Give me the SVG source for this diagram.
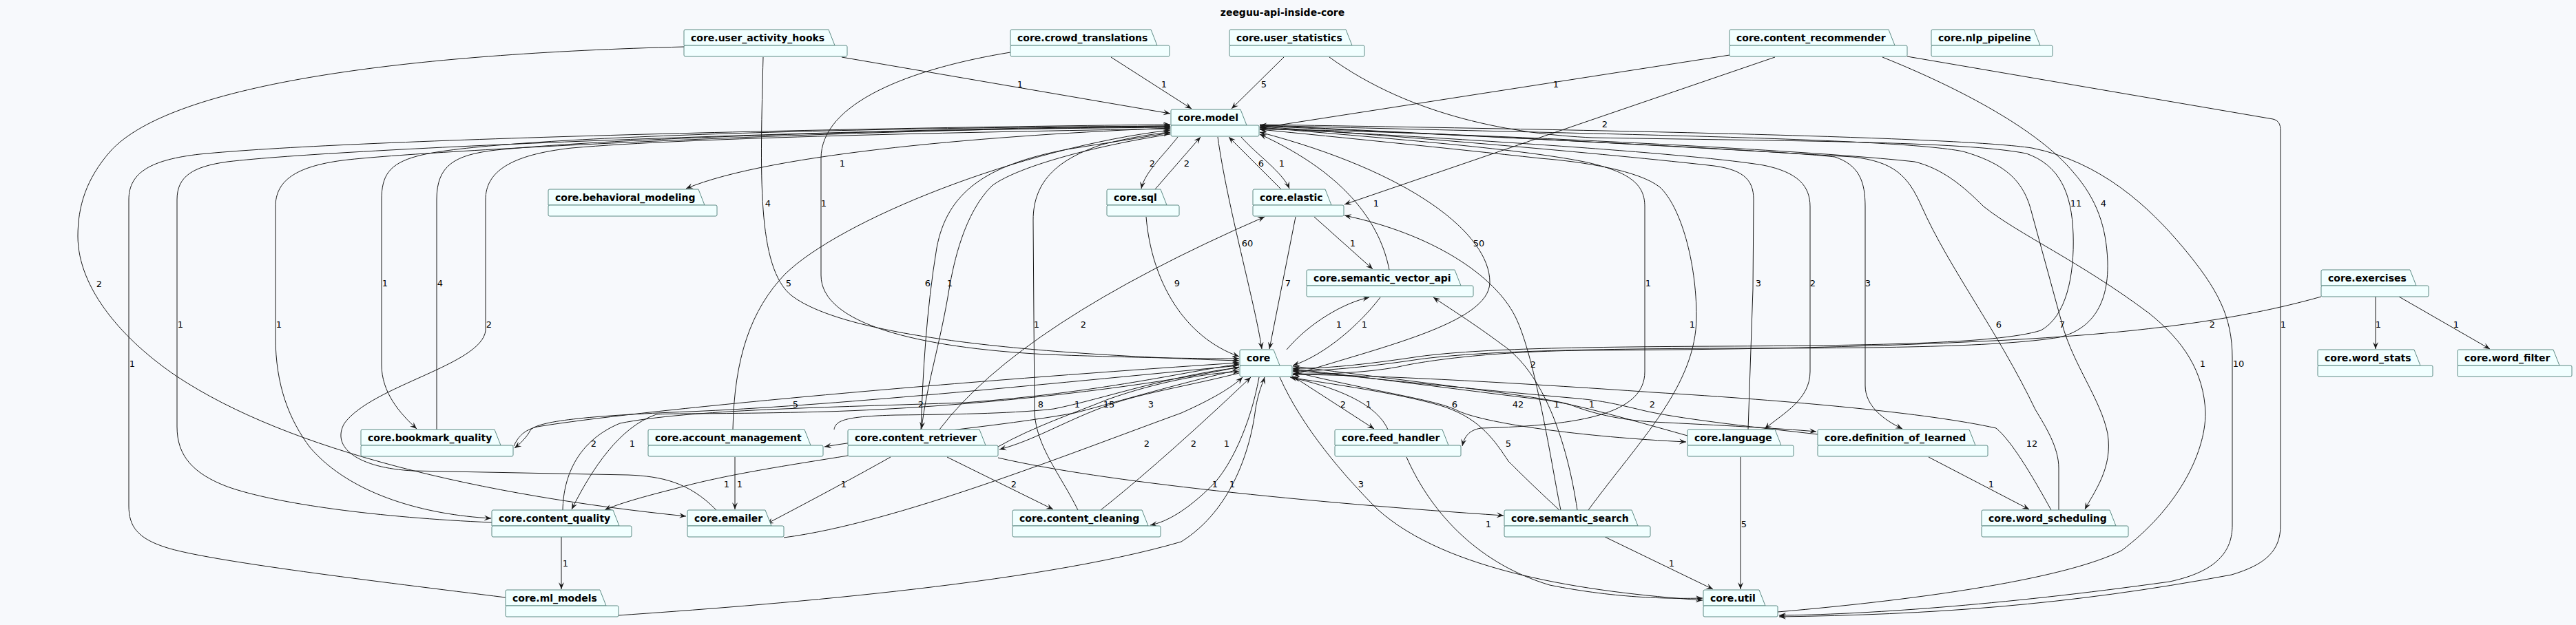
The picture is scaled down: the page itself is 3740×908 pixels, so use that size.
<svg xmlns="http://www.w3.org/2000/svg" width="3740" height="908" viewBox="0 0 3740 908">
<style>
.n path,.n rect{fill:#F1FFFF;stroke:#5C8A84;stroke-width:1}
.n text{font-family:'DejaVu Sans','Liberation Sans',sans-serif;font-weight:bold;font-size:14px;fill:#000}
#edges path{fill:none;stroke:#181818;stroke-width:1;marker-end:url(#a)}
#edges text{font-family:'DejaVu Sans','Liberation Sans',sans-serif;font-size:13px;fill:#000;text-anchor:middle}
.title{font-family:'DejaVu Sans','Liberation Sans',sans-serif;font-weight:bold;font-size:14px;fill:#000;text-anchor:middle}
</style>
<defs>
<marker id="a" markerUnits="userSpaceOnUse" markerWidth="12" markerHeight="10" refX="10" refY="5" orient="auto" viewBox="0 0 12 10"><path d="M0,1 L10,5 L0,9 L4,5 Z" fill="#181818"/></marker>
</defs>
<rect width="3740" height="908" fill="#F7F9FC"/>
<text class="title" x="1862" y="23">zeeguu-api-inside-core</text>
<g id="edges">
<path d="M1222,83 L1699,165"/>
<path d="M1613,83 L1730,158"/>
<path d="M1864,83 L1788,158"/>
<path d="M2511,80 L1829,186"/>
<path d="M2577,83 L1952,297"/>
<path d="M1699,186 C1450,196 1120,222 996,274"/>
<path d="M1108,83 C1104,250 1098,390 1150,430 C1230,490 1500,515 1799,524"/>
<path d="M1467,76 C1320,100 1192,150 1192,230 L1192,400 C1192,470 1330,505 1520,515 C1650,520 1750,521 1799,521"/>
<path d="M1064,624 C1066,520 1090,450 1140,398 C1220,320 1480,215 1699,189"/>
<path d="M634,624 L634,290 C634,240 660,225 720,218 C900,200 1300,188 1699,185"/>
<path d="M1699,183 C1200,186 700,200 605,227 C565,238 554,255 554,290 L554,530 C554,570 580,600 605,623"/>
<path d="M1040,741 C1000,700 960,692 912,690 L600,684 C520,680 480,650 500,615 C540,560 700,530 705,480 L705,290 C705,250 740,225 830,215 C1000,200 1400,192 1699,187"/>
<path d="M734,868 C550,845 300,815 240,795 C200,782 187,765 187,735 L187,290 C187,250 220,232 290,224 C500,203 1200,186 1699,181"/>
<path d="M714,759 C550,752 400,732 330,707 C280,688 257,662 257,620 L257,290 C257,256 280,242 330,235 C500,215 1200,188 1699,183"/>
<path d="M1699,184 C1200,188 600,220 497,233 C430,242 400,262 400,300 L400,490 C400,560 420,610 450,650 C510,720 620,748 713,753"/>
<path d="M993,68 C600,78 250,120 160,220 C125,260 113,300 113,343 C113,420 180,495 257,547 C420,655 700,720 996,750"/>
<path d="M1710,199 C1690,225 1662,250 1657,274"/>
<path d="M1677,275 L1743,199"/>
<path d="M1860,275 L1784,199"/>
<path d="M1802,199 C1825,225 1862,250 1872,274"/>
<path d="M1768,199 C1782,300 1822,440 1832,507"/>
<path d="M1664,315 C1672,410 1720,490 1799,518"/>
<path d="M1881,315 L1843,507"/>
<path d="M1908,315 L1993,391"/>
<path d="M2017,392 C2005,330 1960,255 1829,195"/>
<path d="M1868,508 C1900,470 1950,440 1988,432"/>
<path d="M2004,432 C1975,470 1925,515 1877,531"/>
<path d="M1877,545 C2000,505 2163,470 2163,410 C2163,340 2050,250 1829,192"/>
<path d="M2290,741 C2275,640 2240,540 2180,500 C2140,470 2100,445 2081,432"/>
<path d="M2266,741 C2255,690 2230,520 2200,460 C2170,400 2080,340 1952,313"/>
<path d="M2306,741 C2380,640 2463,560 2463,460 C2463,380 2440,300 2410,272 C2380,248 2300,235 2236,230 C2100,215 1950,200 1829,188"/>
<path d="M1829,185 C2000,200 2200,215 2300,235 C2370,250 2388,270 2388,300 L2388,540 C2388,600 2300,618 2150,622 C2132,625 2126,635 2123,648"/>
<path d="M2538,624 L2545,420 L2546,290 C2546,260 2530,245 2480,240 C2300,220 2000,195 1829,184"/>
<path d="M1829,186 C2100,200 2450,222 2560,240 C2610,250 2628,270 2628,300 L2628,540 C2628,580 2590,600 2562,623"/>
<path d="M1829,183 C2200,200 2600,220 2664,228 C2700,240 2708,265 2708,300 L2708,560 C2708,590 2735,610 2762,623"/>
<path d="M2989,741 L2989,680 C2989,650 2970,620 2955,595 C2900,480 2830,390 2790,300 C2770,255 2750,235 2690,228 C2400,210 2000,190 1829,182"/>
<path d="M1829,182 C2300,195 2750,200 2850,220 C2920,240 2940,270 2950,310 L2994,471 C3010,530 3050,580 3060,630 C3068,680 3040,715 3027,740"/>
<path d="M1930,83 C2050,170 2200,195 2312,200 C2600,205 2850,205 2942,223 C2990,240 3008,280 3010,340 C3012,400 3000,460 2963,480 C2900,500 2700,502 2500,503 C2300,504 2150,506 2060,518 C1980,530 1920,536 1877,535"/>
<path d="M2733,83 C2850,130 2960,190 3010,250 C3045,290 3058,330 3060,380 C3062,450 3030,480 2990,490 C2900,505 2700,506 2500,506 C2300,507 2150,510 2060,522 C1980,534 1920,539 1877,539"/>
<path d="M3370,431 C3250,465 3100,485 2895,495 C2700,505 2500,508 2300,509 C2150,511 2060,526 2030,533 C1980,542 1920,544 1877,543"/>
<path d="M1829,181 C2400,190 2850,200 2950,215 C3050,235 3120,300 3170,360 C3220,420 3241,460 3241,520 L3241,763 C3241,800 3220,830 3150,845 C2900,880 2700,893 2583,894"/>
<path d="M2581,889 C2800,870 3000,840 3080,800 C3160,740 3202,660 3202,600 C3200,540 3170,495 3120,455 C3020,380 2930,340 2880,300 C2850,270 2820,245 2780,235 C2600,215 2000,188 1829,188"/>
<path d="M2769,82 L3300,173 C3308,175 3311,180 3311,190 L3311,763 C3311,800 3290,820 3240,835 C3000,880 2800,893 2583,896"/>
<path d="M746,648 C752,635 760,625 780,620 C900,600 1300,560 1799,527"/>
<path d="M1799,531 C1500,560 1200,590 1000,598 C850,604 780,612 770,625 C765,635 755,645 747,651"/>
<path d="M1211,624 C1213,610 1230,605 1300,603 C1400,602 1480,600 1530,594 C1600,580 1700,545 1799,534"/>
<path d="M1799,537 C1700,560 1600,590 1560,600 C1450,620 1300,632 1197,649"/>
<path d="M1449,649 C1500,620 1560,600 1609,580 C1680,555 1750,542 1799,540"/>
<path d="M1799,542 C1720,562 1650,572 1600,592 C1540,615 1500,640 1451,653"/>
<path d="M817,741 C818,690 840,640 900,615 C1000,595 1200,592 1400,585 C1600,570 1720,540 1799,529"/>
<path d="M1799,533 C1650,565 1400,592 1200,598 C1050,602 980,600 953,602 C900,620 860,680 830,740"/>
<path d="M1337,624 C1340,540 1345,450 1360,360 C1375,280 1430,240 1549,217 L1699,193"/>
<path d="M1699,195 C1600,210 1480,240 1440,270 C1400,310 1385,380 1378,420 C1365,500 1345,560 1338,623"/>
<path d="M1565,741 C1540,690 1505,650 1502,600 L1500,320 C1500,260 1540,230 1600,210 C1640,200 1670,195 1699,192"/>
<path d="M1598,741 C1650,700 1730,630 1816,548"/>
<path d="M1828,548 C1815,620 1785,680 1760,705 C1725,740 1695,758 1670,763"/>
<path d="M1138,781 C1300,760 1550,660 1715,600 C1760,580 1790,562 1804,548"/>
<path d="M898,894 C1100,880 1500,850 1715,787 C1790,740 1815,650 1822,600 C1826,570 1834,555 1836,548"/>
<path d="M1858,548 C1890,620 1950,690 2000,740 C2100,830 2300,860 2472,872"/>
<path d="M2042,664 C2080,750 2150,820 2250,850 C2350,870 2430,870 2472,869"/>
<path d="M1876,546 L1995,623"/>
<path d="M2015,624 C2000,590 1950,565 1873,548"/>
<path d="M1877,540 C2000,570 2080,580 2113,595 C2150,615 2300,635 2448,642"/>
<path d="M2450,633 C2350,605 2280,585 2234,580 C2150,570 2000,550 1877,536"/>
<path d="M1877,532 C2100,560 2250,578 2280,588 C2310,600 2350,610 2400,613 C2500,618 2580,622 2637,627"/>
<path d="M2639,631 C2560,622 2450,610 2393,598 C2350,588 2330,582 2280,578 C2100,562 1950,545 1877,538"/>
<path d="M2978,741 C2950,690 2920,640 2898,622 C2800,600 2600,582 2400,570 C2200,556 2000,545 1877,544"/>
<path d="M1364,624 Q1480,470 1836,315"/>
<path d="M1231,662 C1150,675 1050,690 980,710 C920,725 890,735 878,741"/>
<path d="M1293,664 Q1220,705 1113,761"/>
<path d="M1067,664 L1067,740"/>
<path d="M1375,664 L1529,740"/>
<path d="M1449,665 C1600,700 1900,730 2183,749"/>
<path d="M2264,741 C2230,710 2200,680 2190,670 C2170,640 2150,610 2100,592 C2050,575 1950,560 1877,549"/>
<path d="M2330,780 L2487,856"/>
<path d="M2527,664 L2527,856"/>
<path d="M2800,664 L2946,740"/>
<path d="M3449,431 L3449,507"/>
<path d="M3483,431 L3615,507"/>
<path d="M815,780 L815,856"/>
<text x="1481" y="127">1</text><text x="1690" y="127">1</text><text x="1835" y="127">5</text><text x="2259" y="127">1</text><text x="2330" y="185">2</text>
<text x="1223" y="242">1</text><text x="1115" y="300">4</text><text x="1196" y="300">1</text><text x="1145" y="416">5</text>
<text x="639" y="416">4</text><text x="559" y="416">1</text><text x="710" y="476">2</text>
<text x="192" y="533">1</text><text x="262" y="476">1</text><text x="405" y="476">1</text><text x="144" y="417">2</text>
<text x="1673" y="242">2</text><text x="1723" y="242">2</text><text x="1831" y="242">6</text><text x="1861" y="242">1</text>
<text x="1811" y="358">60</text><text x="1709" y="416">9</text><text x="1870" y="416">7</text><text x="1964" y="358">1</text>
<text x="1998" y="300">1</text><text x="1944" y="476">1</text><text x="1981" y="476">1</text>
<text x="2147" y="358">50</text><text x="2226" y="534">2</text><text x="2260" y="592">1</text><text x="2457" y="476">1</text>
<text x="2393" y="416">1</text><text x="2553" y="416">3</text><text x="2632" y="416">2</text><text x="2712" y="416">3</text>
<text x="2902" y="476">6</text><text x="2994" y="476">7</text><text x="3014" y="300">11</text><text x="3054" y="300">4</text><text x="3212" y="476">2</text>
<text x="3250" y="533">10</text><text x="3198" y="533">1</text><text x="3315" y="476">1</text>
<text x="1155" y="592">5</text><text x="1337" y="592">2</text><text x="1511" y="592">8</text><text x="1564" y="592">1</text><text x="1610" y="592">15</text><text x="1671" y="592">3</text>
<text x="862" y="649">2</text><text x="918" y="649">1</text>
<text x="1347" y="416">6</text><text x="1379" y="416">1</text>
<text x="1505" y="476">1</text><text x="1733" y="649">2</text><text x="1781" y="649">1</text><text x="1665" y="649">2</text><text x="1789" y="708">1</text>
<text x="1976" y="708">3</text><text x="2161" y="766">1</text><text x="1950" y="592">2</text><text x="1987" y="592">1</text><text x="2112" y="592">6</text><text x="2204" y="592">42</text>
<text x="2399" y="592">2</text><text x="2311" y="592">1</text><text x="2950" y="649">12</text>
<text x="1573" y="476">2</text><text x="1055" y="708">1</text><text x="1225" y="708">1</text><text x="1074" y="708">1</text><text x="1472" y="708">2</text><text x="1764" y="708">1</text>
<text x="2190" y="649">5</text><text x="2427" y="823">1</text><text x="2532" y="766">5</text><text x="2891" y="708">1</text><text x="3453" y="476">1</text><text x="3566" y="476">1</text><text x="821" y="823">1</text>
</g>
<g id="n-user_activity_hooks" class="n"><path d="M993,66 V45 Q993,43 995,43 H1203 L1212,66 Z"/><rect x="993" y="66" width="237" height="16" rx="2"/><text x="1003" y="60">core.user_activity_hooks</text></g>
<g id="n-crowd_translations" class="n"><path d="M1467,66 V45 Q1467,43 1469,43 H1671 L1680,66 Z"/><rect x="1467" y="66" width="231" height="16" rx="2"/><text x="1477" y="60">core.crowd_translations</text></g>
<g id="n-user_statistics" class="n"><path d="M1785,66 V45 Q1785,43 1787,43 H1954 L1963,66 Z"/><rect x="1785" y="66" width="196" height="16" rx="2"/><text x="1795" y="60">core.user_statistics</text></g>
<g id="n-content_recommender" class="n"><path d="M2511,66 V45 Q2511,43 2513,43 H2742 L2751,66 Z"/><rect x="2511" y="66" width="258" height="16" rx="2"/><text x="2521" y="60">core.content_recommender</text></g>
<g id="n-nlp_pipeline" class="n"><path d="M2804,66 V45 Q2804,43 2806,43 H2953 L2962,66 Z"/><rect x="2804" y="66" width="176" height="16" rx="2"/><text x="2814" y="60">core.nlp_pipeline</text></g>
<g id="n-model" class="n"><path d="M1700,182 V161 Q1700,159 1702,159 H1801 L1810,182 Z"/><rect x="1700" y="182" width="128" height="16" rx="2"/><text x="1710" y="176">core.model</text></g>
<g id="n-behavioral_modeling" class="n"><path d="M796,298 V277 Q796,275 798,275 H1014 L1023,298 Z"/><rect x="796" y="298" width="245" height="16" rx="2"/><text x="806" y="292">core.behavioral_modeling</text></g>
<g id="n-sql" class="n"><path d="M1607,298 V277 Q1607,275 1609,275 H1685 L1694,298 Z"/><rect x="1607" y="298" width="105" height="16" rx="2"/><text x="1617" y="292">core.sql</text></g>
<g id="n-elastic" class="n"><path d="M1819,298 V277 Q1819,275 1821,275 H1924 L1933,298 Z"/><rect x="1819" y="298" width="132" height="16" rx="2"/><text x="1829" y="292">core.elastic</text></g>
<g id="n-semantic_vector_api" class="n"><path d="M1897,415 V394 Q1897,392 1899,392 H2112 L2121,415 Z"/><rect x="1897" y="415" width="242" height="16" rx="2"/><text x="1907" y="409">core.semantic_vector_api</text></g>
<g id="n-exercises" class="n"><path d="M3370,415 V394 Q3370,392 3372,392 H3499 L3508,415 Z"/><rect x="3370" y="415" width="156" height="16" rx="2"/><text x="3380" y="409">core.exercises</text></g>
<g id="n-core" class="n"><path d="M1800,531 V510 Q1800,508 1802,508 H1849 L1858,531 Z"/><rect x="1800" y="531" width="76" height="16" rx="2"/><text x="1810" y="525">core</text></g>
<g id="n-word_stats" class="n"><path d="M3365,531 V510 Q3365,508 3367,508 H3505 L3514,531 Z"/><rect x="3365" y="531" width="167" height="16" rx="2"/><text x="3375" y="525">core.word_stats</text></g>
<g id="n-word_filter" class="n"><path d="M3568,531 V510 Q3568,508 3570,508 H3707 L3716,531 Z"/><rect x="3568" y="531" width="166" height="16" rx="2"/><text x="3578" y="525">core.word_filter</text></g>
<g id="n-bookmark_quality" class="n"><path d="M524,647 V626 Q524,624 526,624 H718 L727,647 Z"/><rect x="524" y="647" width="221" height="16" rx="2"/><text x="534" y="641">core.bookmark_quality</text></g>
<g id="n-account_management" class="n"><path d="M941,647 V626 Q941,624 943,624 H1168 L1177,647 Z"/><rect x="941" y="647" width="254" height="16" rx="2"/><text x="951" y="641">core.account_management</text></g>
<g id="n-content_retriever" class="n"><path d="M1231,647 V626 Q1231,624 1233,624 H1422 L1431,647 Z"/><rect x="1231" y="647" width="218" height="16" rx="2"/><text x="1241" y="641">core.content_retriever</text></g>
<g id="n-feed_handler" class="n"><path d="M1938,647 V626 Q1938,624 1940,624 H2094 L2103,647 Z"/><rect x="1938" y="647" width="183" height="16" rx="2"/><text x="1948" y="641">core.feed_handler</text></g>
<g id="n-language" class="n"><path d="M2450,647 V626 Q2450,624 2452,624 H2577 L2586,647 Z"/><rect x="2450" y="647" width="154" height="16" rx="2"/><text x="2460" y="641">core.language</text></g>
<g id="n-definition_of_learned" class="n"><path d="M2639,647 V626 Q2639,624 2641,624 H2859 L2868,647 Z"/><rect x="2639" y="647" width="247" height="16" rx="2"/><text x="2649" y="641">core.definition_of_learned</text></g>
<g id="n-content_quality" class="n"><path d="M714,764 V743 Q714,741 716,741 H890 L899,764 Z"/><rect x="714" y="764" width="203" height="16" rx="2"/><text x="724" y="758">core.content_quality</text></g>
<g id="n-emailer" class="n"><path d="M998,764 V743 Q998,741 1000,741 H1111 L1120,764 Z"/><rect x="998" y="764" width="140" height="16" rx="2"/><text x="1008" y="758">core.emailer</text></g>
<g id="n-content_cleaning" class="n"><path d="M1470,764 V743 Q1470,741 1472,741 H1658 L1667,764 Z"/><rect x="1470" y="764" width="215" height="16" rx="2"/><text x="1480" y="758">core.content_cleaning</text></g>
<g id="n-semantic_search" class="n"><path d="M2184,764 V743 Q2184,741 2186,741 H2369 L2378,764 Z"/><rect x="2184" y="764" width="212" height="16" rx="2"/><text x="2194" y="758">core.semantic_search</text></g>
<g id="n-word_scheduling" class="n"><path d="M2877,764 V743 Q2877,741 2879,741 H3063 L3072,764 Z"/><rect x="2877" y="764" width="213" height="16" rx="2"/><text x="2887" y="758">core.word_scheduling</text></g>
<g id="n-ml_models" class="n"><path d="M734,880 V859 Q734,857 736,857 H871 L880,880 Z"/><rect x="734" y="880" width="164" height="16" rx="2"/><text x="744" y="874">core.ml_models</text></g>
<g id="n-util" class="n"><path d="M2473,880 V859 Q2473,857 2475,857 H2554 L2563,880 Z"/><rect x="2473" y="880" width="108" height="16" rx="2"/><text x="2483" y="874">core.util</text></g>
</svg>
